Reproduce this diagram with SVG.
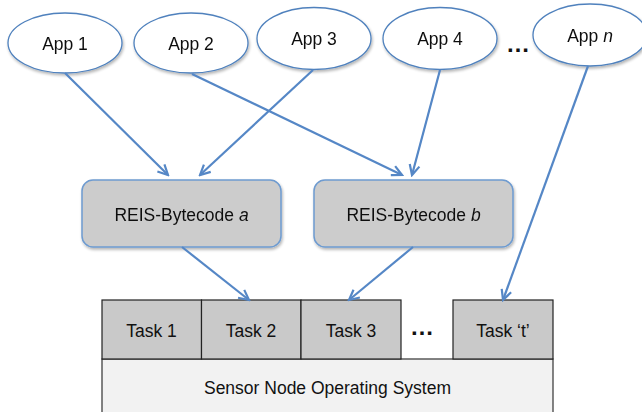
<svg xmlns="http://www.w3.org/2000/svg" width="642" height="412" viewBox="0 0 642 412">
  <style>
    .lbl { font-family: "Liberation Sans", Arial, sans-serif; font-size: 17.5px; fill: #111; text-anchor: middle; }
    .app { fill: #ffffff; stroke: #4f81bd; stroke-width: 1.3; }
    .code { fill: #cccccc; stroke: #6e9bd0; stroke-width: 1.5; }
    .task { fill: #c9c9c9; stroke: #222; stroke-width: 1.2; }
    .os { fill: #f2f2f2; stroke: #333; stroke-width: 1.2; }
    .dots { font-family: "Liberation Sans", Arial, sans-serif; font-size: 24px; font-weight: bold; fill: #111; text-anchor: middle; }
    .link { stroke: #5587c6; stroke-width: 2.2; fill: none; marker-end: url(#head); }
  </style>
  <defs>
    <marker id="head" markerUnits="userSpaceOnUse" markerWidth="14" markerHeight="14" viewBox="0 0 14 14" refX="12" refY="7" orient="auto">
      <path d="M2,2 L12,7 L2,12" fill="none" stroke="#5587c6" stroke-width="2.2" stroke-linejoin="miter"/>
    </marker>
    <filter id="shade" x="-10%" y="-10%" width="125%" height="135%">
      <feGaussianBlur in="SourceAlpha" stdDeviation="1.5"/>
      <feOffset dx="1" dy="2" result="b"/>
      <feComponentTransfer><feFuncA type="linear" slope="0.3"/></feComponentTransfer>
      <feMerge><feMergeNode/><feMergeNode in="SourceGraphic"/></feMerge>
    </filter>
  </defs>

  <rect width="642" height="412" fill="#ffffff"/>

  <!-- application ellipses -->
  <g id="app1" filter="url(#shade)">
    <ellipse class="app" cx="65" cy="43" rx="57" ry="30"/>
    <text class="lbl" x="65" y="50">App 1</text>
  </g>
  <g id="app2" filter="url(#shade)">
    <ellipse class="app" cx="191" cy="43" rx="57" ry="30"/>
    <text class="lbl" x="191" y="50">App 2</text>
  </g>
  <g id="app3" filter="url(#shade)">
    <ellipse class="app" cx="314" cy="38.5" rx="57" ry="31"/>
    <text class="lbl" x="314" y="45">App 3</text>
  </g>
  <g id="app4" filter="url(#shade)">
    <ellipse class="app" cx="440" cy="38.5" rx="57" ry="31"/>
    <text class="lbl" x="440" y="45">App 4</text>
  </g>
  <text class="dots" x="518" y="52">…</text>
  <g id="appn" filter="url(#shade)">
    <ellipse class="app" cx="590" cy="35" rx="57" ry="31"/>
    <text class="lbl" x="590" y="42">App <tspan font-style="italic">n</tspan></text>
  </g>

  <!-- bytecode boxes -->
  <g id="bytecode-a" filter="url(#shade)">
    <rect class="code" x="82" y="180" width="199" height="67" rx="11"/>
    <text class="lbl" x="181.5" y="221">REIS-Bytecode <tspan font-style="italic">a</tspan></text>
  </g>
  <g id="bytecode-b" filter="url(#shade)">
    <rect class="code" x="314" y="180" width="199" height="67" rx="11"/>
    <text class="lbl" x="413.5" y="221">REIS-Bytecode <tspan font-style="italic">b</tspan></text>
  </g>

  <!-- operating system and task slots -->
  <g id="os">
    <rect class="os" x="102" y="359" width="451" height="60"/>
    <text class="lbl" x="327.5" y="394">Sensor Node Operating System</text>
  </g>
  <g id="task1">
    <rect class="task" x="102" y="300" width="99.5" height="59"/>
    <text class="lbl" x="151.5" y="337">Task 1</text>
  </g>
  <g id="task2">
    <rect class="task" x="201.5" y="300" width="99.5" height="59"/>
    <text class="lbl" x="251" y="337">Task 2</text>
  </g>
  <g id="task3">
    <rect class="task" x="301" y="300" width="100" height="59"/>
    <text class="lbl" x="351" y="337">Task 3</text>
  </g>
  <text class="dots" x="422" y="335">…</text>
  <g id="taskt">
    <rect class="task" x="453" y="300" width="100" height="59"/>
    <text class="lbl" x="503" y="337">Task ‘t’</text>
  </g>

  <!-- connectors -->
  <g id="connectors">
    <line class="link" x1="65" y1="73" x2="168" y2="175"/>
    <line class="link" x1="313" y1="70" x2="200" y2="175"/>
    <line class="link" x1="192" y1="74" x2="402" y2="175"/>
    <line class="link" x1="440" y1="70" x2="412" y2="175"/>
    <line class="link" x1="182" y1="247" x2="249" y2="300"/>
    <line class="link" x1="413" y1="247" x2="349" y2="300"/>
    <line class="link" x1="588" y1="66" x2="503" y2="300"/>
  </g>
</svg>
